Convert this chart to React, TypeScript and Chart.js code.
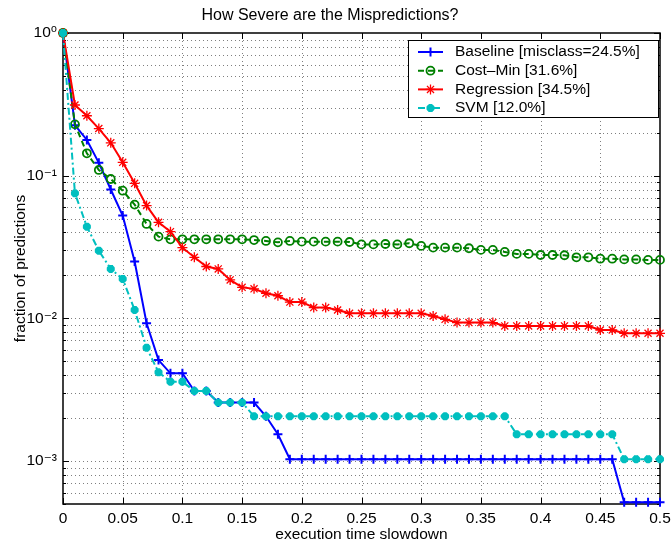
import React, { useEffect, useRef } from 'react';
import { Chart, registerables } from 'chart.js';

Chart.register(...registerables);

const TITLE = 'How Severe are the Mispredictions?';
const X_LABEL = 'execution time slowdown';
const Y_LABEL = 'fraction of predictions';

const X_VALUES = [
  0, 0.01, 0.02, 0.03, 0.04, 0.05, 0.06, 0.07, 0.08, 0.09,
  0.1, 0.11, 0.12, 0.13, 0.14, 0.15, 0.16, 0.17, 0.18, 0.19,
  0.2, 0.21, 0.22, 0.23, 0.24, 0.25, 0.26, 0.27, 0.28, 0.29,
  0.3, 0.31, 0.32, 0.33, 0.34, 0.35, 0.36, 0.37, 0.38, 0.39,
  0.4, 0.41, 0.42, 0.43, 0.44, 0.45, 0.46, 0.47, 0.48, 0.49, 0.5,
];

const BASELINE = [
  1.0, 0.226, 0.178, 0.123, 0.080, 0.0525, 0.0250, 0.00925, 0.00510, 0.00412,
  0.00412, 0.00310, 0.00310, 0.00257, 0.00257, 0.00257, 0.00257, 0.00206, 0.00154, 0.00103,
  0.00103, 0.00103, 0.00103, 0.00103, 0.00103, 0.00103, 0.00103, 0.00103, 0.00103, 0.00103,
  0.00103, 0.00103, 0.00103, 0.00103, 0.00103, 0.00103, 0.00103, 0.00103, 0.00103, 0.00103,
  0.00103, 0.00103, 0.00103, 0.00103, 0.00103, 0.00103, 0.00103, 0.000514, 0.000514, 0.000514, 0.000514,
];

const COST_MIN = [
  1.0, 0.229, 0.1435, 0.1097, 0.0948, 0.0785, 0.0627, 0.0459, 0.0374, 0.0358,
  0.0358, 0.0358, 0.0358, 0.0358, 0.0358, 0.0358, 0.0354, 0.0349, 0.0341, 0.0349,
  0.0345, 0.0345, 0.0345, 0.0345, 0.0343, 0.0330, 0.0330, 0.0332, 0.0330, 0.0336,
  0.0322, 0.0313, 0.0313, 0.0313, 0.0310, 0.0302, 0.0302, 0.0292, 0.0283, 0.0283,
  0.0278, 0.0278, 0.0277, 0.0268, 0.0268, 0.0262, 0.0262, 0.0259, 0.0259, 0.0257, 0.0257,
];

const REGRESSION = [
  1.0, 0.313, 0.263, 0.214, 0.170, 0.124, 0.0884, 0.0617, 0.0471, 0.0405,
  0.0313, 0.0268, 0.0231, 0.0222, 0.0186, 0.0165, 0.0161, 0.0150, 0.0144, 0.0130,
  0.0130, 0.0119, 0.0119, 0.01145, 0.01085, 0.01085, 0.01085, 0.01085, 0.01085, 0.01085,
  0.01085, 0.01039, 0.00985, 0.00934, 0.00934, 0.00934, 0.00934, 0.00885, 0.00885, 0.00885,
  0.00885, 0.00885, 0.00885, 0.00885, 0.00885, 0.00829, 0.00829, 0.00786, 0.00786, 0.00786, 0.00786,
];

const SVM = [
  1.0, 0.0752, 0.0439, 0.0298, 0.0222, 0.0189, 0.01145, 0.00623, 0.00419, 0.00360,
  0.00360, 0.00310, 0.00310, 0.00257, 0.00257, 0.00257, 0.00206, 0.00206, 0.00206, 0.00206,
  0.00206, 0.00206, 0.00206, 0.00206, 0.00206, 0.00206, 0.00206, 0.00206, 0.00206, 0.00206,
  0.00206, 0.00206, 0.00206, 0.00206, 0.00206, 0.00206, 0.00206, 0.00206, 0.00154, 0.00154,
  0.00154, 0.00154, 0.00154, 0.00154, 0.00154, 0.00154, 0.00154, 0.00103, 0.00103, 0.00103, 0.00103,
];

const SERIES_LABELS = [
  'Baseline [misclass=24.5%]',
  'Cost\u2013Min [31.6%]',
  'Regression [34.5%]',
  'SVM [12.0%]',
];

const X_TICKS = [0, 0.05, 0.1, 0.15, 0.2, 0.25, 0.3, 0.35, 0.4, 0.45, 0.5];
const X_TICK_LABELS = ['0', '0.05', '0.1', '0.15', '0.2', '0.25', '0.3', '0.35', '0.4', '0.45', '0.5'];

const Y_MAJOR_TICKS = [1, 0.1, 0.01, 0.001];
const Y_MAJOR_LABELS = ['10\u2070', '10\u207B\u00B9', '10\u207B\u00B2', '10\u207B\u00B3'];
const Y_MINOR_TICKS = [
  0.9, 0.8, 0.7, 0.6, 0.5, 0.4, 0.3, 0.2,
  0.09, 0.08, 0.07, 0.06, 0.05, 0.04, 0.03, 0.02,
  0.009, 0.008, 0.007, 0.006, 0.005, 0.004, 0.003, 0.002,
  0.0009, 0.0008, 0.0007, 0.0006, 0.0005,
];

const X_MIN = 0;
const X_MAX = 0.5;
const Y_MIN = 0.0005;
const Y_MAX = 1;

const FONT_FAMILY = "'Liberation Sans', Arial, Helvetica, 'DejaVu Sans', sans-serif";
const FONT_SIZE = 15.5;

function isMajor(v: number) {
  return Y_MAJOR_TICKS.findIndex((t) => Math.abs(Math.log10(t) - Math.log10(v)) < 1e-6);
}

function drawMarker(ctx: CanvasRenderingContext2D, style: string, x: number, y: number, r: number, lw: number, color: string, bg: string) {
  ctx.save();
  ctx.setLineDash([]);
  ctx.lineWidth = lw;
  ctx.strokeStyle = color;
  ctx.fillStyle = bg;
  ctx.beginPath();
  if (style === 'circle') {
    ctx.arc(x, y, r, 0, Math.PI * 2);
    ctx.fill();
    ctx.stroke();
  } else if (style === 'cross') {
    ctx.moveTo(x - r, y); ctx.lineTo(x + r, y);
    ctx.moveTo(x, y - r); ctx.lineTo(x, y + r);
    ctx.stroke();
  } else {
    const d = r * Math.SQRT1_2;
    ctx.moveTo(x - r, y); ctx.lineTo(x + r, y);
    ctx.moveTo(x, y - r); ctx.lineTo(x, y + r);
    ctx.moveTo(x - d, y - d); ctx.lineTo(x + d, y + d);
    ctx.moveTo(x - d, y + d); ctx.lineTo(x + d, y - d);
    ctx.stroke();
  }
  ctx.restore();
}

const framePlugin = {
  id: 'matlabFrame',
  beforeDatasetsDraw(chart: any) {
    const { ctx, chartArea: a, scales } = chart;
    const xs = scales.x;
    const ys = scales.y;
    ctx.save();
    ctx.strokeStyle = 'rgba(0,0,0,0.5)';
    ctx.lineWidth = 1;
    ctx.setLineDash([1, 3]);
    xs.ticks.forEach((t: any) => {
      const px = Math.round(xs.getPixelForValue(t.value)) + 0.5;
      if (px <= a.left + 1 || px >= a.right - 1) return;
      ctx.beginPath();
      ctx.moveTo(px, a.top);
      ctx.lineTo(px, a.bottom);
      ctx.stroke();
    });
    ys.ticks.forEach((t: any) => {
      const py = Math.round(ys.getPixelForValue(t.value)) + 0.5;
      if (py <= a.top + 1 || py >= a.bottom - 1) return;
      ctx.beginPath();
      ctx.moveTo(a.left, py);
      ctx.lineTo(a.right, py);
      ctx.stroke();
    });
    ctx.setLineDash([]);
    ctx.strokeStyle = '#000';
    ctx.lineWidth = 1.5;
    ctx.strokeRect(a.left, a.top, a.right - a.left, a.bottom - a.top);
    ctx.lineWidth = 1;
    xs.ticks.forEach((t: any) => {
      const px = Math.round(xs.getPixelForValue(t.value)) + 0.5;
      ctx.beginPath();
      ctx.moveTo(px, a.bottom); ctx.lineTo(px, a.bottom - 6);
      ctx.moveTo(px, a.top); ctx.lineTo(px, a.top + 6);
      ctx.stroke();
    });
    ys.ticks.forEach((t: any) => {
      const py = Math.round(ys.getPixelForValue(t.value)) + 0.5;
      const len = isMajor(t.value) >= 0 ? 6 : 3;
      ctx.beginPath();
      ctx.moveTo(a.left, py); ctx.lineTo(a.left + len, py);
      ctx.moveTo(a.right, py); ctx.lineTo(a.right - len, py);
      ctx.stroke();
    });
    ctx.restore();
  },
};

const legendPlugin = {
  id: 'matlabLegend',
  afterDraw(chart: any) {
    const { ctx, chartArea: a } = chart;
    const w = 250;
    const h = 77;
    const right = a.right - 2;
    const left = right - w;
    const top = a.top + 7;
    ctx.save();
    ctx.fillStyle = '#fff';
    ctx.fillRect(left, top, w, h);
    ctx.strokeStyle = '#000';
    ctx.lineWidth = 1;
    ctx.strokeRect(Math.round(left) + 0.5, Math.round(top) + 0.5, w, h);
    chart.data.datasets.forEach((ds: any, i: number) => {
      const cy = top + 12 + i * 18.7;
      ctx.save();
      ctx.strokeStyle = ds.borderColor;
      ctx.lineWidth = ds.borderWidth;
      ctx.setLineDash(ds.borderDash || []);
      ctx.beginPath();
      ctx.moveTo(left + 10, cy);
      ctx.lineTo(left + 35, cy);
      ctx.stroke();
      ctx.restore();
      drawMarker(ctx, ds.pointStyle, left + 22.5, cy, ds.pointRadius, ds.pointBorderWidth, ds.borderColor, ds.pointBackgroundColor);
      ctx.fillStyle = '#000';
      ctx.font = `${FONT_SIZE}px ${FONT_FAMILY}`;
      ctx.textBaseline = 'middle';
      ctx.textAlign = 'left';
      ctx.fillText(ds.label, left + 47, cy);
    });
    ctx.restore();
  },
};

function pts(ys: number[]) {
  return X_VALUES.map((x, i) => ({ x, y: ys[i] }));
}

export default function App() {
  const ref = useRef<HTMLCanvasElement | null>(null);

  useEffect(() => {
    if (!ref.current) return;
    Chart.defaults.font.family = FONT_FAMILY;
    Chart.defaults.font.size = FONT_SIZE;
    Chart.defaults.color = '#000';

    const chart = new Chart(ref.current, {
      type: 'line',
      data: {
        datasets: [
          {
            label: SERIES_LABELS[0],
            data: pts(BASELINE),
            borderColor: '#0000ff',
            backgroundColor: '#0000ff',
            borderWidth: 2,
            pointStyle: 'cross',
            pointRadius: 4.5,
            pointBorderWidth: 2,
            pointBorderColor: '#0000ff',
            pointBackgroundColor: '#0000ff',
            fill: false,
            tension: 0,
            clip: false,
            order: 3,
          },
          {
            label: SERIES_LABELS[1],
            data: pts(COST_MIN),
            borderColor: '#008000',
            backgroundColor: 'rgba(0,0,0,0)',
            borderWidth: 2,
            borderDash: [6, 4],
            pointStyle: 'circle',
            pointRadius: 4,
            pointBorderWidth: 1.8,
            pointBorderColor: '#008000',
            pointBackgroundColor: 'rgba(0,0,0,0)',
            fill: false,
            tension: 0,
            clip: false,
            order: 2,
          },
          {
            label: SERIES_LABELS[2],
            data: pts(REGRESSION),
            borderColor: '#ff0000',
            backgroundColor: '#ff0000',
            borderWidth: 2,
            pointStyle: 'star',
            pointRadius: 5,
            pointBorderWidth: 1.3,
            pointBorderColor: '#ff0000',
            pointBackgroundColor: '#ff0000',
            fill: false,
            tension: 0,
            clip: false,
            order: 1,
          },
          {
            label: SERIES_LABELS[3],
            data: pts(SVM),
            borderColor: '#00bfbf',
            backgroundColor: '#00bfbf',
            borderWidth: 2,
            borderDash: [7, 3, 2, 3],
            pointStyle: 'star',
            pointRadius: 4,
            pointBorderWidth: 3,
            pointBorderColor: '#00bfbf',
            pointBackgroundColor: '#00bfbf',
            fill: false,
            tension: 0,
            clip: false,
            order: 0,
          },
        ],
      },
      options: {
        responsive: false,
        animation: false,
        events: [],
        layout: { padding: { left: 0, right: 11, top: 0, bottom: 0 } },
        plugins: {
          legend: { display: false },
          tooltip: { enabled: false },
          title: {
            display: true,
            text: TITLE,
            color: '#000',
            font: { size: 16, weight: 'normal', family: FONT_FAMILY },
            padding: { top: 6, bottom: 7.8 },
          },
        },
        scales: {
          x: {
            type: 'linear',
            min: X_MIN,
            max: X_MAX,
            grid: { display: false, drawTicks: false },
            border: { display: false },
            ticks: {
              autoSkip: false,
              maxRotation: 0,
              padding: 5,
              color: '#000',
              callback: (_v: any, i: number) => X_TICK_LABELS[i],
            },
            afterBuildTicks: (scale: any) => {
              scale.ticks = X_TICKS.map((v) => ({ value: v }));
            },
            afterFit: (scale: any) => {
              scale.height = 43;
              scale.paddingLeft = 0;
              scale.paddingRight = 0;
            },
            title: {
              display: true,
              text: X_LABEL,
              color: '#000',
              padding: { top: 0, bottom: 2.7 },
            },
          },
          y: {
            type: 'logarithmic',
            min: Y_MIN,
            max: Y_MAX,
            grid: { display: false, drawTicks: false },
            border: { display: false },
            ticks: {
              autoSkip: false,
              padding: 6,
              color: '#000',
              callback: (v: any) => {
                const idx = isMajor(Number(v));
                return idx >= 0 ? Y_MAJOR_LABELS[idx] : '';
              },
            },
            afterBuildTicks: (scale: any) => {
              const all = [...Y_MAJOR_TICKS, ...Y_MINOR_TICKS].sort((p, q) => p - q);
              scale.ticks = all.map((v) => ({ value: v, major: isMajor(v) >= 0 }));
            },
            afterFit: (scale: any) => {
              scale.width = 63;
              scale.paddingTop = 0;
              scale.paddingBottom = 0;
            },
            title: {
              display: true,
              text: Y_LABEL,
              color: '#000',
              padding: { top: 11, bottom: 0 },
            },
          },
        },
      },
      plugins: [framePlugin, legendPlugin],
    } as any);

    return () => chart.destroy();
  }, []);

  return (
    <div style={{ position: 'absolute', left: 0, top: 0, width: 671, height: 547, background: '#fff' }}>
      <canvas ref={ref} width={671} height={547} style={{ display: 'block', width: 671, height: 547 }} />
    </div>
  );
}
